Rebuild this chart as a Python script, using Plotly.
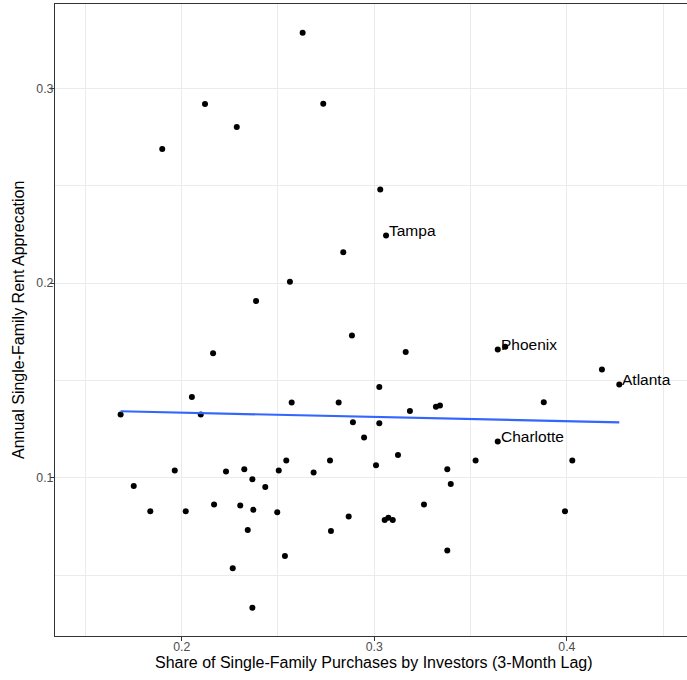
import numpy as np
import plotly.graph_objects as go

# Share of single-family purchases by investors (3-month lag)
investor_share = [
    0.2628, 0.2121, 0.2735, 0.2286, 0.1899, 0.3031, 0.3061, 0.2839, 0.2562, 0.2386,
    0.2884, 0.2163, 0.3163, 0.3641, 0.3680, 0.4182, 0.4272, 0.2053, 0.3026, 0.2571,
    0.2815, 0.3880, 0.3320, 0.3341, 0.1683, 0.2099, 0.3185, 0.2889, 0.3026, 0.2947,
    0.3641, 0.3123, 0.1964, 0.2230, 0.2325, 0.2504, 0.2543, 0.2685, 0.2770, 0.3009,
    0.3379, 0.3526, 0.4028, 0.1751, 0.2367, 0.2434, 0.3397, 0.1837, 0.2021, 0.2168,
    0.2304, 0.2372, 0.2496, 0.2867, 0.3054, 0.3073, 0.3096, 0.3258, 0.3990, 0.2343,
    0.2775, 0.2536, 0.3379, 0.2265, 0.2367,
]
# Annual single-family rent appreciation
rent_appreciation = [
    0.3286, 0.2919, 0.2921, 0.2801, 0.2688, 0.2481, 0.2245, 0.2159, 0.2007, 0.1908,
    0.1731, 0.1640, 0.1647, 0.1659, 0.1673, 0.1557, 0.1480, 0.1416, 0.1467, 0.1387,
    0.1387, 0.1389, 0.1365, 0.1372, 0.1326, 0.1326, 0.1343, 0.1286, 0.1281, 0.1208,
    0.1187, 0.1118, 0.1038, 0.1033, 0.1045, 0.1038, 0.1089, 0.1028, 0.1089, 0.1065,
    0.1045, 0.1089, 0.1089, 0.0959, 0.0993, 0.0954, 0.0969, 0.0829, 0.0829, 0.0863,
    0.0858, 0.0836, 0.0824, 0.0802, 0.0784, 0.0795, 0.0784, 0.0863, 0.0829, 0.0733,
    0.0728, 0.0599, 0.0627, 0.0536, 0.0334,
]
# Labelled metros
label_names = ["Tampa", "Phoenix", "Atlanta", "Charlotte"]
label_x = [0.3061, 0.3641, 0.4272, 0.3641]
label_y = [0.2245, 0.1659, 0.1480, 0.1187]

x_ticks = [0.2, 0.3, 0.4]
y_ticks = [0.1, 0.2, 0.3]

xs = np.array(investor_share)
ys = np.array(rent_appreciation)
slope, intercept = np.polyfit(xs, ys, 1)
fit_x = np.array([xs.min(), xs.max()])
fit_y = intercept + slope * fit_x

FONT = "Liberation Sans, Arial, sans-serif"

fig = go.Figure()
fig.add_trace(go.Scatter(
    x=investor_share, y=rent_appreciation, mode="markers",
    marker=dict(color="black", size=6, line=dict(width=0)),
    showlegend=False, hoverinfo="x+y",
))
fig.add_trace(go.Scatter(
    x=fit_x, y=fit_y, mode="lines",
    line=dict(color="#3366FF", width=2.2),
    showlegend=False, hoverinfo="skip",
))

for name, lx, ly in zip(label_names, label_x, label_y):
    fig.add_annotation(
        x=lx, y=ly, text=name, showarrow=False,
        xanchor="left", yanchor="bottom", xshift=1, yshift=-5.5,
        font=dict(family=FONT, size=15.5, color="black"),
    )

grid = "#EBEBEB"
axis_col = "#333333"
fig.update_xaxes(
    range=[0.13422, 0.46236], tickvals=x_ticks, ticktext=[str(v) for v in x_ticks],
    showgrid=True, gridcolor=grid, gridwidth=1.1,
    minor=dict(dtick=0.05, tick0=0, showgrid=True, gridcolor=grid, gridwidth=0.6),
    showline=True, linecolor=axis_col, linewidth=1.2, mirror=True,
    ticks="outside", ticklen=4, tickcolor=axis_col, tickwidth=1,
    ticklabelstandoff=-5,
    tickfont=dict(family=FONT, size=12.3, color="#4D4D4D"),
    zeroline=False,
)
fig.update_yaxes(
    range=[0.01885, 0.3433], tickvals=y_ticks, ticktext=[str(v) for v in y_ticks],
    showgrid=True, gridcolor=grid, gridwidth=1.1,
    minor=dict(dtick=0.05, tick0=0, showgrid=True, gridcolor=grid, gridwidth=0.6),
    showline=True, linecolor=axis_col, linewidth=1.2, mirror=False,
    ticks="outside", ticklen=4, tickcolor=axis_col, tickwidth=1,
    ticklabelstandoff=-6,
    tickfont=dict(family=FONT, size=12.3, color="#4D4D4D"),
    zeroline=False,
)

fig.add_annotation(
    text="Share of Single-Family Purchases by Investors (3-Month Lag)",
    xref="paper", yref="paper", x=0.504, y=-0.0427,
    xanchor="center", yanchor="middle", showarrow=False,
    font=dict(family=FONT, size=16, color="black"),
)
fig.add_annotation(
    text="Annual Single-Family Rent Apprecation",
    xref="paper", yref="paper", x=-0.0585, y=0.5, textangle=-90,
    xanchor="center", yanchor="middle", showarrow=False,
    font=dict(family=FONT, size=16, color="black"),
)

fig.update_layout(
    width=687, height=680,
    margin=dict(l=55, r=0, t=4, b=44),
    paper_bgcolor="white", plot_bgcolor="white",
    font=dict(family=FONT),
)

fig.write_html(
    "out.html",
    config={"displayModeBar": False},
    post_script="document.body.style.margin='0';document.body.style.padding='0';",
)
